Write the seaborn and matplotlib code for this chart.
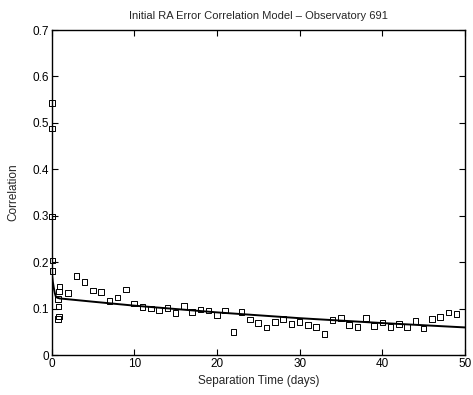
import matplotlib
matplotlib.use("Agg")
import matplotlib.pyplot as plt
import seaborn as sns
import pandas as pd

# Observed correlations (open squares)
obs_days = [0.05, 0.05, 0.08, 0.10, 0.10,
            0.95, 0.90, 0.80, 0.85, 0.90, 0.77,
            2, 3, 4, 5, 6, 7, 8, 9, 10, 11, 12, 13, 14, 15, 16, 17, 18, 19, 20,
            21, 22, 23, 24, 25, 26, 27, 28, 29, 30, 31, 32, 33, 34, 35, 36, 37,
            38, 39, 40, 41, 42, 43, 44, 45, 46, 47, 48, 49]
obs_corr = [0.543, 0.488, 0.298, 0.204, 0.181,
            0.148, 0.137, 0.121, 0.105, 0.083, 0.078,
            0.134, 0.170, 0.157, 0.139, 0.136, 0.116, 0.124, 0.141, 0.111, 0.104,
            0.100, 0.097, 0.101, 0.091, 0.106, 0.093, 0.098, 0.096, 0.086,
            0.096, 0.050, 0.093, 0.077, 0.069, 0.059, 0.071, 0.078, 0.067, 0.071,
            0.065, 0.060, 0.045, 0.076, 0.080, 0.065, 0.060,
            0.080, 0.063, 0.070, 0.061, 0.067, 0.060, 0.073, 0.057, 0.078, 0.082,
            0.092, 0.088]

# Model curve (solid line)
model_days = [0, 0.01, 0.02, 0.04, 0.08, 0.15, 0.28, 0.4, 0.52, 0.7, 1,
              5, 10, 20, 30, 40, 50]
model_corr = [0.90, 0.45, 0.28, 0.19, 0.17, 0.158, 0.144, 0.133, 0.126, 0.1235,
              0.122, 0.115, 0.1065, 0.092, 0.0795, 0.069, 0.0596]

x_ticks = [0, 10, 20, 30, 40, 50]
y_ticks = [0, 0.1, 0.2, 0.3, 0.4, 0.5, 0.6, 0.7]
y_tick_labels = ["0", "0.1", "0.2", "0.3", "0.4", "0.5", "0.6", "0.7"]

title = "Initial RA Error Correlation Model \u2013 Observatory 691"
xlabel = "Separation Time (days)"
ylabel = "Correlation"

sns.set_theme(style="white")
plt.rcParams["font.family"] = ["Liberation Sans", "DejaVu Sans"]

obs_df = pd.DataFrame({"days": obs_days, "corr": obs_corr})
model_df = pd.DataFrame({"days": model_days, "corr": model_corr})

fig = plt.figure(figsize=(4.73, 3.95), dpi=100)
ax = fig.add_axes([0.109, 0.101, 0.874, 0.823])

sns.lineplot(data=model_df, x="days", y="corr", ax=ax, color="black",
             linewidth=1.4, estimator=None, sort=False)
sns.scatterplot(data=obs_df, x="days", y="corr", ax=ax, marker="s", s=16,
                facecolor="none", edgecolor="black", linewidth=0.7, zorder=3,
                clip_on=False)

ax.set_xlim(0, 50)
ax.set_ylim(0, 0.7)
ax.set_xticks(x_ticks)
ax.set_xticklabels([str(v) for v in x_ticks])
ax.set_yticks(y_ticks)
ax.set_yticklabels(y_tick_labels)
ax.tick_params(direction="in", length=4, width=0.8, top=True, right=True,
               bottom=True, left=True, labelsize=8.5, pad=2, colors="black")
for sp in ax.spines.values():
    sp.set_visible(True)
    sp.set_color("black")
    sp.set_linewidth(1.0)

ax.set_title(title, fontsize=8, pad=8)
ax.set_xlabel(xlabel, fontsize=8.5, labelpad=4)
ax.set_ylabel(ylabel, fontsize=8.5, labelpad=9)

fig.savefig("out.png", dpi=100, facecolor="white")
